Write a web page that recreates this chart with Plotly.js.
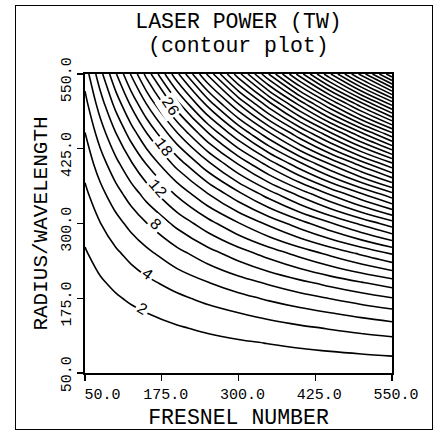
<!DOCTYPE html>
<html>
<head>
<meta charset="utf-8">
<script src="https://cdn.plot.ly/plotly-3.0.1.min.js"></script>
<style>
html,body{margin:0;padding:0;background:#fff;}
#wrap{position:relative;width:445px;height:432px;}
#chart{width:445px;height:432px;}
#frame{position:absolute;left:15px;top:5px;width:416px;height:423px;border:1px solid #000;pointer-events:none;}
</style>
</head>
<body>
<div id="wrap">
<div id="chart"></div>
<div id="frame"></div>
</div>
<script>
// Fresnel number (x) and radius/wavelength (y) sample grid
const fresnel = [50, 75, 100, 125, 150, 200, 250, 300, 350, 400, 450, 500, 550];
const radius  = [50, 75, 100, 125, 150, 175, 200, 250, 300, 350, 400, 450, 500, 550];
// Laser power (TW), one row per radius value
const power = [
  [0.07, 0.11, 0.15, 0.18, 0.22, 0.29, 0.37, 0.44, 0.51, 0.59, 0.66, 0.73, 0.81],
  [0.17, 0.25, 0.33, 0.41, 0.50, 0.66, 0.83, 0.99, 1.16, 1.32, 1.49, 1.65, 1.82],
  [0.29, 0.44, 0.59, 0.73, 0.88, 1.17, 1.47, 1.76, 2.05, 2.35, 2.64, 2.94, 3.23],
  [0.46, 0.69, 0.92, 1.15, 1.38, 1.83, 2.29, 2.75, 3.21, 3.67, 4.13, 4.59, 5.04],
  [0.66, 0.99, 1.32, 1.65, 1.98, 2.64, 3.30, 3.96, 4.62, 5.28, 5.94, 6.60, 7.26],
  [0.90, 1.35, 1.80, 2.25, 2.70, 3.60, 4.49, 5.39, 6.29, 7.19, 8.09, 8.99, 9.89],
  [1.17, 1.76, 2.35, 2.94, 3.52, 4.70, 5.87, 7.04, 8.22, 9.39, 10.57, 11.74, 12.91],
  [1.83, 2.75, 3.67, 4.59, 5.50, 7.34, 9.17, 11.01, 12.84, 14.68, 16.51, 18.34, 20.18],
  [2.64, 3.96, 5.28, 6.60, 7.92, 10.57, 13.21, 15.85, 18.49, 21.13, 23.77, 26.42, 29.06],
  [3.60, 5.39, 7.19, 8.99, 10.79, 14.38, 17.98, 21.57, 25.17, 28.76, 32.36, 35.95, 39.55],
  [4.70, 7.04, 9.39, 11.74, 14.09, 18.78, 23.48, 28.18, 32.87, 37.57, 42.26, 46.96, 51.66],
  [5.94, 8.92, 11.89, 14.86, 17.83, 23.77, 29.72, 35.66, 41.60, 47.55, 53.49, 59.43, 65.38],
  [7.34, 11.01, 14.68, 18.34, 22.01, 29.35, 36.69, 44.03, 51.36, 58.70, 66.04, 73.38, 80.71],
  [8.88, 13.32, 17.76, 22.20, 26.64, 35.51, 44.39, 53.27, 62.15, 71.03, 79.91, 88.78, 97.66]
];
// contour levels
const levelStart = 2, levelEnd = 96, levelStep = 2;
// labelled contours
const labelLevels = ["2", "4", "8", "12", "18", "26"];
// tick values / labels
const xTicks = [50, 175, 300, 425, 550];
const xTickText = ["\u00a0\u00a0\u00a050.0", "175.0", "300.0", "425.0", "550.0"];
const yTicks = [50, 175, 300, 425, 550];
const yTickText = ["\u00a050.0", "175.0", "300.0", "425.0", "550.0"];
const titleLine1 = "LASER POWER (TW)";
const titleLine2 = "(contour plot)";

// label placement (data coords) and angle along the line
const labelPlace = [
  {x: 143, y: 156, a: 30},
  {x: 151, y: 214, a: 36},
  {x: 164, y: 297, a: 43},
  {x: 167, y: 357, a: 50},
  {x: 177, y: 426, a: 54},
  {x: 188, y: 495, a: 57}
];

const FONT = "Liberation Mono, DejaVu Sans Mono, monospace";

const trace = {
  type: "contour",
  x: fresnel,
  y: radius,
  z: power,
  autocontour: false,
  contours: {start: levelStart, end: levelEnd, size: levelStep, coloring: "lines", showlabels: false},
  colorscale: [[0, "#000"], [1, "#000"]],
  showscale: false,
  line: {width: 1.6, smoothing: 1.0},
  hoverinfo: "skip"
};

const annotations = labelLevels.map((t, i) => ({
  x: labelPlace[i].x, y: labelPlace[i].y, xref: "x", yref: "y",
  text: t, showarrow: false, textangle: labelPlace[i].a,
  font: {family: FONT, size: 16, color: "#000"},
  bgcolor: "#fff", borderpad: 1
}));
annotations.push({
  x: 0.5, y: 1.094, xref: "paper", yref: "paper", xanchor: "center", yanchor: "middle",
  text: titleLine2, showarrow: false,
  font: {family: FONT, size: 21.5, color: "#000"}
});

const layout = {
  width: 445, height: 432,
  margin: {l: 85, r: 53, t: 74, b: 59},
  paper_bgcolor: "#fff", plot_bgcolor: "#fff",
  showlegend: false,
  title: {
    text: titleLine1,
    font: {family: FONT, size: 21.5, color: "#000"},
    x: 0.5, xref: "paper", xanchor: "center",
    y: 0.952, yref: "container", yanchor: "middle"
  },
  xaxis: {
    range: [50, 550], tickvals: xTicks, ticktext: xTickText,
    showgrid: false, zeroline: false,
    showline: true, linecolor: "#000", linewidth: 1.6, mirror: true,
    ticks: "outside", ticklen: 6, tickwidth: 1.2, tickcolor: "#000",
    ticklabelshift: 4,
    tickfont: {family: FONT, size: 15, color: "#000"},
    title: {text: "FRESNEL NUMBER", font: {family: FONT, size: 21.5, color: "#000"}, standoff: 6}
  },
  yaxis: {
    range: [50, 550], tickvals: yTicks, ticktext: yTickText,
    showgrid: false, zeroline: false,
    showline: true, linecolor: "#000", linewidth: 1.6, mirror: true,
    ticks: "outside", ticklen: 6, tickwidth: 1.2, tickcolor: "#000",
    tickangle: -90, ticklabelshift: 8,
    tickfont: {family: FONT, size: 15, color: "#000"},
    title: {text: "RADIUS/WAVELENGTH", font: {family: FONT, size: 21, color: "#000"}, standoff: 6}
  },
  annotations: annotations
};

Plotly.newPlot("chart", [trace], layout, {staticPlot: true, displayModeBar: false});
</script>
</body>
</html>
